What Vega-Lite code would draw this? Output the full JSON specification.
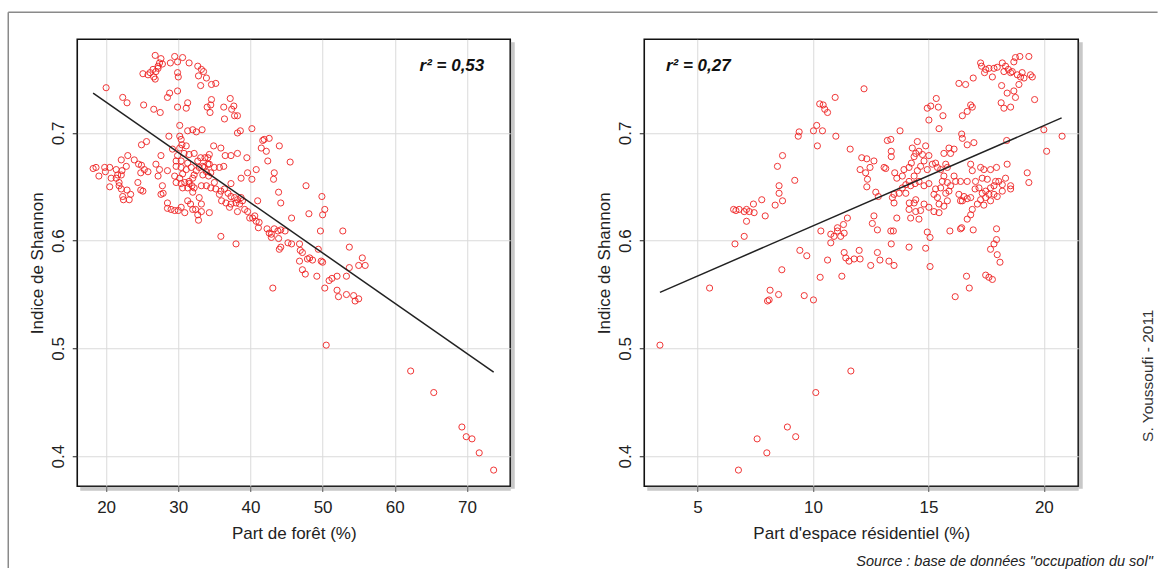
{
"$schema": "https://vega.github.io/schema/vega-lite/v6.json",
"padding": {"left": 6.25, "top": 10.25, "right": 0, "bottom": 0},
"background": "white",
"bounds": "flush",
"spacing": 134,
"datasets": {
"foret": [
{"x":26.8,"y":0.772},{"x":27.6,"y":0.769},{"x":29.5,"y":0.771},{"x":30.6,"y":0.770},{"x":29.9,"y":0.766},{"x":28.9,"y":0.765},{"x":31.5,"y":0.765},{"x":32.7,"y":0.762},{"x":33.2,"y":0.759},{"x":33.5,"y":0.757},{"x":27.4,"y":0.765},{"x":27.2,"y":0.762},{"x":26.5,"y":0.759},{"x":26.9,"y":0.757},{"x":26.1,"y":0.756},{"x":25.8,"y":0.754},{"x":25.1,"y":0.755},{"x":26.6,"y":0.752},{"x":26.8,"y":0.750},{"x":27.2,"y":0.760},{"x":27.8,"y":0.764},{"x":29.9,"y":0.756},{"x":30.0,"y":0.752},{"x":32.8,"y":0.753},{"x":33.9,"y":0.751},{"x":34.6,"y":0.745},{"x":35.2,"y":0.746},{"x":33.1,"y":0.744},{"x":20.0,"y":0.742},{"x":22.3,"y":0.733},{"x":22.9,"y":0.728},{"x":25.2,"y":0.726},{"x":26.6,"y":0.722},{"x":27.5,"y":0.719},{"x":28.5,"y":0.733},{"x":28.8,"y":0.737},{"x":29.9,"y":0.739},{"x":29.9,"y":0.724},{"x":31.1,"y":0.723},{"x":31.3,"y":0.728},{"x":34.0,"y":0.724},{"x":34.6,"y":0.731},{"x":34.5,"y":0.726},{"x":34.4,"y":0.719},{"x":36.3,"y":0.724},{"x":37.2,"y":0.732},{"x":37.4,"y":0.722},{"x":37.7,"y":0.725},{"x":37.8,"y":0.716},{"x":38.2,"y":0.716},{"x":36.4,"y":0.713},{"x":30.2,"y":0.707},{"x":28.7,"y":0.697},{"x":30.2,"y":0.697},{"x":30.4,"y":0.694},{"x":31.3,"y":0.702},{"x":32.0,"y":0.703},{"x":32.5,"y":0.701},{"x":33.3,"y":0.703},{"x":30.5,"y":0.689},{"x":31.1,"y":0.688},{"x":29.2,"y":0.685},{"x":30.8,"y":0.681},{"x":31.5,"y":0.680},{"x":32.2,"y":0.681},{"x":34.3,"y":0.680},{"x":34.9,"y":0.688},{"x":35.9,"y":0.686},{"x":36.5,"y":0.679},{"x":37.3,"y":0.679},{"x":38.2,"y":0.681},{"x":38.2,"y":0.700},{"x":38.6,"y":0.702},{"x":40.2,"y":0.704},{"x":41.7,"y":0.693},{"x":41.9,"y":0.694},{"x":42.6,"y":0.695},{"x":41.5,"y":0.686},{"x":42.2,"y":0.683},{"x":44.0,"y":0.688},{"x":39.5,"y":0.677},{"x":42.4,"y":0.674},{"x":45.5,"y":0.673},{"x":43.3,"y":0.663},{"x":43.2,"y":0.657},{"x":40.8,"y":0.666},{"x":39.6,"y":0.663},{"x":38.7,"y":0.658},{"x":40.2,"y":0.657},{"x":37.3,"y":0.653},{"x":36.3,"y":0.669},{"x":35.7,"y":0.668},{"x":35.0,"y":0.668},{"x":34.1,"y":0.671},{"x":33.1,"y":0.677},{"x":32.9,"y":0.668},{"x":32.5,"y":0.665},{"x":31.8,"y":0.668},{"x":31.1,"y":0.666},{"x":30.6,"y":0.662},{"x":30.2,"y":0.658},{"x":30.4,"y":0.653},{"x":30.9,"y":0.654},{"x":31.5,"y":0.655},{"x":31.9,"y":0.651},{"x":32.2,"y":0.649},{"x":31.3,"y":0.649},{"x":32.0,"y":0.645},{"x":33.2,"y":0.651},{"x":33.9,"y":0.651},{"x":34.2,"y":0.660},{"x":33.4,"y":0.661},{"x":33.6,"y":0.668},{"x":34.5,"y":0.649},{"x":35.2,"y":0.648},{"x":35.9,"y":0.646},{"x":35.7,"y":0.643},{"x":36.4,"y":0.648},{"x":36.9,"y":0.644},{"x":37.3,"y":0.641},{"x":37.8,"y":0.640},{"x":38.2,"y":0.638},{"x":38.7,"y":0.640},{"x":36.0,"y":0.637},{"x":36.6,"y":0.635},{"x":37.3,"y":0.634},{"x":38.0,"y":0.635},{"x":38.5,"y":0.634},{"x":38.9,"y":0.637},{"x":37.1,"y":0.631},{"x":38.2,"y":0.627},{"x":39.2,"y":0.629},{"x":39.6,"y":0.627},{"x":39.9,"y":0.621},{"x":40.3,"y":0.621},{"x":40.6,"y":0.623},{"x":40.8,"y":0.618},{"x":41.2,"y":0.617},{"x":41.1,"y":0.612},{"x":42.3,"y":0.611},{"x":42.6,"y":0.607},{"x":42.9,"y":0.606},{"x":43.3,"y":0.611},{"x":43.8,"y":0.609},{"x":44.2,"y":0.610},{"x":44.8,"y":0.609},{"x":42.9,"y":0.603},{"x":43.9,"y":0.602},{"x":44.2,"y":0.594},{"x":44.0,"y":0.592},{"x":45.2,"y":0.598},{"x":45.7,"y":0.597},{"x":46.8,"y":0.597},{"x":46.9,"y":0.591},{"x":47.2,"y":0.589},{"x":47.9,"y":0.583},{"x":48.2,"y":0.584},{"x":48.6,"y":0.582},{"x":46.8,"y":0.581},{"x":47.2,"y":0.573},{"x":47.6,"y":0.569},{"x":49.2,"y":0.567},{"x":49.8,"y":0.581},{"x":50.0,"y":0.580},{"x":49.4,"y":0.592},{"x":50.9,"y":0.563},{"x":51.3,"y":0.565},{"x":52.0,"y":0.567},{"x":53.3,"y":0.567},{"x":53.7,"y":0.575},{"x":55.5,"y":0.584},{"x":55.0,"y":0.577},{"x":55.9,"y":0.577},{"x":53.7,"y":0.594},{"x":52.8,"y":0.609},{"x":49.7,"y":0.609},{"x":45.7,"y":0.621},{"x":48.1,"y":0.625},{"x":50.0,"y":0.624},{"x":50.3,"y":0.629},{"x":49.9,"y":0.641},{"x":47.7,"y":0.651},{"x":44.2,"y":0.635},{"x":43.9,"y":0.645},{"x":41.0,"y":0.637},{"x":35.9,"y":0.604},{"x":38.0,"y":0.597},
{"x":18.2,"y":0.667},{"x":18.6,"y":0.668},{"x":19.0,"y":0.660},{"x":19.8,"y":0.668},{"x":19.9,"y":0.664},{"x":20.5,"y":0.668},{"x":20.7,"y":0.658},{"x":21.4,"y":0.658},{"x":21.6,"y":0.661},{"x":22.1,"y":0.661},{"x":21.8,"y":0.654},{"x":21.8,"y":0.651},{"x":20.5,"y":0.650},{"x":22.1,"y":0.648},{"x":22.3,"y":0.641},{"x":22.4,"y":0.638},{"x":23.2,"y":0.638},{"x":23.4,"y":0.643},{"x":22.9,"y":0.647},{"x":22.2,"y":0.665},{"x":22.8,"y":0.669},{"x":23.0,"y":0.679},{"x":22.1,"y":0.675},{"x":21.4,"y":0.666},{"x":23.9,"y":0.675},{"x":24.5,"y":0.671},{"x":24.9,"y":0.670},{"x":25.3,"y":0.666},{"x":25.8,"y":0.664},{"x":24.8,"y":0.663},{"x":24.4,"y":0.654},{"x":24.8,"y":0.647},{"x":25.1,"y":0.646},{"x":26.9,"y":0.671},{"x":27.6,"y":0.679},{"x":27.4,"y":0.666},{"x":28.5,"y":0.665},{"x":27.2,"y":0.660},{"x":27.8,"y":0.651},{"x":27.9,"y":0.644},{"x":28.5,"y":0.635},{"x":28.5,"y":0.630},{"x":29.0,"y":0.629},{"x":29.5,"y":0.628},{"x":30.0,"y":0.628},{"x":30.4,"y":0.631},{"x":30.9,"y":0.626},{"x":31.3,"y":0.637},{"x":31.7,"y":0.634},{"x":32.0,"y":0.629},{"x":32.4,"y":0.629},{"x":32.7,"y":0.624},{"x":32.8,"y":0.619},{"x":33.2,"y":0.627},{"x":33.2,"y":0.634},{"x":32.9,"y":0.640},{"x":34.3,"y":0.626},{"x":27.6,"y":0.643},{"x":24.9,"y":0.689},{"x":25.6,"y":0.692},{"x":30.2,"y":0.686},{"x":29.9,"y":0.679},{"x":29.7,"y":0.674},{"x":30.4,"y":0.674},{"x":29.7,"y":0.669},{"x":30.4,"y":0.668},{"x":29.5,"y":0.660},{"x":29.7,"y":0.654},{"x":30.6,"y":0.649},{"x":31.5,"y":0.653},{"x":32.0,"y":0.658},{"x":32.2,"y":0.661},{"x":31.3,"y":0.672},{"x":32.7,"y":0.674},{"x":33.7,"y":0.677},{"x":34.1,"y":0.677},{"x":33.4,"y":0.669},{"x":33.9,"y":0.664},{"x":34.3,"y":0.671},{"x":35.0,"y":0.654},{"x":34.5,"y":0.663},
{"x":43.1,"y":0.556},{"x":50.3,"y":0.556},{"x":52.0,"y":0.554},{"x":52.2,"y":0.548},{"x":53.3,"y":0.550},{"x":54.3,"y":0.549},{"x":54.5,"y":0.544},{"x":55.0,"y":0.546},{"x":50.5,"y":0.503},{"x":62.2,"y":0.479},{"x":65.4,"y":0.459},{"x":69.3,"y":0.427},{"x":69.9,"y":0.418},{"x":70.7,"y":0.416},{"x":71.7,"y":0.403},{"x":73.7,"y":0.387}
],
"resid": [
{"x":17.26,"y":0.765},{"x":17.30,"y":0.762},{"x":17.48,"y":0.759},{"x":17.62,"y":0.760},{"x":17.84,"y":0.760},{"x":17.98,"y":0.761},{"x":18.20,"y":0.765},{"x":18.34,"y":0.762},{"x":18.46,"y":0.759},{"x":18.70,"y":0.766},{"x":18.77,"y":0.770},{"x":18.96,"y":0.771},{"x":19.35,"y":0.771},{"x":18.63,"y":0.757},{"x":18.85,"y":0.754},{"x":18.99,"y":0.752},{"x":19.14,"y":0.751},{"x":19.42,"y":0.754},{"x":19.50,"y":0.752},{"x":17.77,"y":0.752},{"x":17.43,"y":0.756},{"x":18.27,"y":0.757},{"x":18.56,"y":0.756},{"x":19.06,"y":0.756},{"x":18.92,"y":0.745},{"x":18.70,"y":0.739},{"x":18.77,"y":0.733},{"x":18.41,"y":0.737},{"x":18.17,"y":0.744},{"x":16.32,"y":0.746},{"x":16.61,"y":0.745},{"x":16.94,"y":0.751},{"x":19.60,"y":0.731},{"x":18.15,"y":0.728},{"x":18.27,"y":0.723},{"x":18.56,"y":0.724},{"x":16.83,"y":0.726},{"x":16.68,"y":0.720},{"x":16.47,"y":0.716},{"x":16.90,"y":0.724},
{"x":12.21,"y":0.741},{"x":10.96,"y":0.733},{"x":10.29,"y":0.727},{"x":10.44,"y":0.726},{"x":10.51,"y":0.722},{"x":10.63,"y":0.719},{"x":10.16,"y":0.707},{"x":10.02,"y":0.702},{"x":10.41,"y":0.702},{"x":10.19,"y":0.688},{"x":10.99,"y":0.697},{"x":9.40,"y":0.701},{"x":9.36,"y":0.697},{"x":13.77,"y":0.702},{"x":15.02,"y":0.712},{"x":14.95,"y":0.723},{"x":15.10,"y":0.725},{"x":15.34,"y":0.732},{"x":15.43,"y":0.724},{"x":15.63,"y":0.716},{"x":15.46,"y":0.704},{"x":16.44,"y":0.699},{"x":16.47,"y":0.695},{"x":16.68,"y":0.689},{"x":16.97,"y":0.691},{"x":20.00,"y":0.703},{"x":20.79,"y":0.697},{"x":20.12,"y":0.683},{"x":18.39,"y":0.693},
{"x":8.46,"y":0.669},{"x":8.68,"y":0.679},{"x":9.21,"y":0.656},{"x":8.53,"y":0.651},{"x":8.53,"y":0.644},{"x":8.68,"y":0.637},{"x":8.36,"y":0.633},{"x":7.93,"y":0.623},{"x":7.78,"y":0.638},{"x":7.42,"y":0.634},{"x":7.45,"y":0.626},{"x":7.12,"y":0.629},{"x":7.02,"y":0.627},{"x":6.80,"y":0.629},{"x":6.66,"y":0.628},{"x":6.56,"y":0.629},{"x":7.12,"y":0.618},{"x":7.02,"y":0.604},{"x":6.62,"y":0.597},{"x":7.24,"y":0.627},
{"x":11.61,"y":0.685},{"x":12.11,"y":0.677},{"x":12.33,"y":0.676},{"x":12.64,"y":0.674},{"x":12.04,"y":0.666},{"x":12.47,"y":0.668},{"x":12.28,"y":0.663},{"x":12.36,"y":0.657},{"x":12.33,"y":0.650},{"x":12.72,"y":0.645},{"x":12.83,"y":0.641},{"x":13.08,"y":0.668},{"x":13.15,"y":0.667},{"x":13.22,"y":0.693},{"x":13.37,"y":0.694},{"x":13.39,"y":0.683},{"x":13.39,"y":0.678},{"x":13.54,"y":0.663},{"x":13.63,"y":0.658},{"x":13.87,"y":0.660},{"x":13.94,"y":0.666},{"x":14.16,"y":0.668},{"x":14.26,"y":0.672},{"x":14.38,"y":0.678},{"x":14.45,"y":0.681},{"x":14.52,"y":0.692},{"x":14.30,"y":0.686},{"x":14.59,"y":0.683},{"x":14.74,"y":0.680},{"x":14.88,"y":0.688},{"x":15.02,"y":0.679},{"x":14.81,"y":0.674},{"x":14.66,"y":0.669},{"x":14.52,"y":0.665},{"x":14.38,"y":0.660},{"x":14.16,"y":0.655},{"x":14.02,"y":0.652},{"x":14.23,"y":0.651},{"x":14.42,"y":0.653},{"x":14.59,"y":0.655},{"x":14.81,"y":0.651},{"x":15.02,"y":0.653},{"x":14.95,"y":0.666},{"x":15.17,"y":0.671},{"x":15.31,"y":0.672},{"x":15.39,"y":0.668},{"x":15.53,"y":0.666},{"x":15.67,"y":0.681},{"x":15.75,"y":0.671},{"x":15.89,"y":0.686},{"x":16.11,"y":0.685},{"x":15.96,"y":0.681},{"x":15.82,"y":0.668},{"x":15.67,"y":0.660},{"x":15.60,"y":0.655},{"x":15.82,"y":0.654},{"x":15.96,"y":0.651},{"x":15.89,"y":0.646},{"x":16.11,"y":0.660},{"x":16.18,"y":0.655},{"x":15.53,"y":0.649},{"x":15.31,"y":0.648},{"x":15.24,"y":0.643},{"x":15.39,"y":0.640},{"x":15.46,"y":0.634},{"x":15.75,"y":0.644},{"x":15.82,"y":0.637},{"x":15.67,"y":0.632},{"x":15.46,"y":0.626},{"x":15.24,"y":0.627},{"x":15.02,"y":0.631},{"x":14.81,"y":0.634},{"x":14.45,"y":0.638},{"x":14.38,"y":0.635},{"x":14.45,"y":0.627},{"x":14.66,"y":0.628},{"x":14.59,"y":0.620},{"x":14.23,"y":0.621},{"x":14.16,"y":0.629},
{"x":16.32,"y":0.643},{"x":16.47,"y":0.637},{"x":16.68,"y":0.639},{"x":16.83,"y":0.640},{"x":17.02,"y":0.648},{"x":17.19,"y":0.649},{"x":17.33,"y":0.644},{"x":17.48,"y":0.646},{"x":17.62,"y":0.643},{"x":17.48,"y":0.640},{"x":17.26,"y":0.638},{"x":17.12,"y":0.634},{"x":17.69,"y":0.649},{"x":17.84,"y":0.651},{"x":17.91,"y":0.655},{"x":18.05,"y":0.655},{"x":18.20,"y":0.652},{"x":17.98,"y":0.641},{"x":17.84,"y":0.643},{"x":18.20,"y":0.646},{"x":18.34,"y":0.658},{"x":18.41,"y":0.671},{"x":18.56,"y":0.651},{"x":18.56,"y":0.648},{"x":19.28,"y":0.663},{"x":19.35,"y":0.654},{"x":16.83,"y":0.671},{"x":16.90,"y":0.665},{"x":17.26,"y":0.668},{"x":17.40,"y":0.666},{"x":17.69,"y":0.666},{"x":17.95,"y":0.668},{"x":17.55,"y":0.657},{"x":17.33,"y":0.658},{"x":17.04,"y":0.655},{"x":16.68,"y":0.655},{"x":16.39,"y":0.655},{"x":16.39,"y":0.637},{"x":16.54,"y":0.641},{"x":17.69,"y":0.637},{"x":17.40,"y":0.633},{"x":16.90,"y":0.629},{"x":16.83,"y":0.624},{"x":16.68,"y":0.620},{"x":16.39,"y":0.611},{"x":16.94,"y":0.610},{"x":17.95,"y":0.611},{"x":17.95,"y":0.601},{"x":17.84,"y":0.597},{"x":17.69,"y":0.592},{"x":17.98,"y":0.587},{"x":18.10,"y":0.580},{"x":14.95,"y":0.608},{"x":15.07,"y":0.603},{"x":14.88,"y":0.593},{"x":15.07,"y":0.576},{"x":15.93,"y":0.609},{"x":16.44,"y":0.612},
{"x":12.64,"y":0.623},{"x":12.57,"y":0.616},{"x":12.79,"y":0.610},{"x":13.37,"y":0.609},{"x":13.48,"y":0.609},{"x":13.39,"y":0.597},{"x":13.29,"y":0.581},{"x":13.51,"y":0.577},{"x":12.79,"y":0.589},{"x":12.90,"y":0.582},{"x":12.50,"y":0.577},{"x":12.00,"y":0.591},{"x":12.04,"y":0.583},{"x":11.78,"y":0.583},{"x":11.42,"y":0.584},{"x":11.56,"y":0.581},{"x":11.35,"y":0.589},{"x":11.20,"y":0.604},{"x":11.35,"y":0.607},{"x":11.49,"y":0.621},{"x":11.32,"y":0.615},{"x":11.06,"y":0.612},{"x":11.06,"y":0.609},{"x":10.77,"y":0.606},{"x":10.91,"y":0.604},{"x":10.77,"y":0.598},{"x":10.63,"y":0.582},{"x":10.34,"y":0.609},{"x":9.73,"y":0.586},{"x":9.43,"y":0.591},{"x":8.65,"y":0.573},{"x":10.31,"y":0.566},{"x":11.25,"y":0.567},{"x":16.65,"y":0.567},{"x":17.48,"y":0.568},{"x":17.62,"y":0.566},{"x":17.77,"y":0.564},{"x":14.16,"y":0.594},{"x":13.51,"y":0.643},{"x":13.51,"y":0.635},{"x":13.44,"y":0.640},{"x":13.73,"y":0.644},{"x":13.87,"y":0.649},{"x":14.02,"y":0.644},{"x":13.63,"y":0.621},{"x":14.17,"y":0.635},
{"x":3.37,"y":0.503},{"x":5.52,"y":0.556},{"x":8.14,"y":0.554},{"x":8.10,"y":0.545},{"x":8.03,"y":0.544},{"x":8.51,"y":0.550},{"x":9.62,"y":0.549},{"x":10.02,"y":0.545},{"x":16.16,"y":0.548},{"x":16.77,"y":0.556},{"x":11.64,"y":0.479},{"x":10.12,"y":0.459},{"x":8.89,"y":0.427},{"x":9.25,"y":0.418},{"x":7.58,"y":0.416},{"x":8.00,"y":0.403},{"x":6.77,"y":0.387}
],
"regF": [{"x":18.2,"y":0.737},{"x":73.7,"y":0.478}],
"regR": [{"x":3.37,"y":0.552},{"x":20.77,"y":0.714}]
},
"hconcat": [
{
"width": 433, "height": 447,
"layer": [
{"data": {"values": [{}]},
 "mark": {"type": "rule", "color": "#8a8a8a", "strokeWidth": 1.5},
 "encoding": {"x": {"datum": 6.44, "type": "quantitative"}, "y": {"datum": 0.8121, "type": "quantitative"}, "y2": {"datum": 0.296}}},
{"data": {"values": [{}]},
 "mark": {"type": "rule", "color": "#8a8a8a", "strokeWidth": 1.5},
 "encoding": {"x": {"datum": 6.44, "type": "quantitative"}, "x2": {"datum": 165.7}, "y": {"datum": 0.8121, "type": "quantitative"}}},
{"data": {"values": [{}]},
 "mark": {"type": "rule", "color": "#9a9a9a", "strokeWidth": 4, "opacity": 0.55},
 "encoding": {"x": {"datum": 76.346, "type": "quantitative"}, "y": {"datum": 0.7842, "type": "quantitative"}, "y2": {"datum": 0.3697}}},
{"data": {"values": [{}]},
 "mark": {"type": "rule", "color": "#9a9a9a", "strokeWidth": 4, "opacity": 0.55},
 "encoding": {"x": {"datum": 16.416, "type": "quantitative"}, "x2": {"datum": 76.07}, "y": {"datum": 0.3697, "type": "quantitative"}}},
{"data": {"name": "foret"},
 "mark": {"type": "point", "shape": "circle", "filled": false, "color": "#f02222", "size": 38, "strokeWidth": 1, "opacity": 0.9},
 "encoding": {
  "x": {"field": "x", "type": "quantitative", "scale": {"domain": [16, 76], "nice": false, "zero": false},
        "axis": {"values": [20,30,40,50,60,70], "title": "Part de forêt (%)"}},
  "y": {"field": "y", "type": "quantitative", "scale": {"domain": [0.372, 0.787], "nice": false, "zero": false},
        "axis": {"values": [0.4,0.5,0.6,0.7], "format": ".1f", "title": "Indice de Shannon"}}
 }},
{"data": {"name": "regF"},
 "mark": {"type": "line", "color": "#222", "strokeWidth": 1.5},
 "encoding": {"x": {"field": "x", "type": "quantitative"}, "y": {"field": "y", "type": "quantitative"}}},
{"data": {"values": [{}]},
 "mark": {"type": "text", "text": "r² = 0,53", "align": "right", "baseline": "middle", "fontSize": 17, "fontWeight": "bold", "fontStyle": "italic", "color": "#111"},
 "encoding": {"x": {"datum": 72.4, "type": "quantitative"}, "y": {"datum": 0.762, "type": "quantitative"}}}
]
},
{
"width": 434, "height": 447,
"layer": [
{"data": {"values": [{}]},
 "mark": {"type": "rule", "color": "#9a9a9a", "strokeWidth": 4, "opacity": 0.55},
 "encoding": {"x": {"datum": 21.598, "type": "quantitative"}, "y": {"datum": 0.7842, "type": "quantitative"}, "y2": {"datum": 0.3697}}},
{"data": {"values": [{}]},
 "mark": {"type": "rule", "color": "#9a9a9a", "strokeWidth": 4, "opacity": 0.55},
 "encoding": {"x": {"datum": 2.82, "type": "quantitative"}, "x2": {"datum": 21.51}, "y": {"datum": 0.3697, "type": "quantitative"}}},
{"data": {"name": "resid"},
 "mark": {"type": "point", "shape": "circle", "filled": false, "color": "#f02222", "size": 38, "strokeWidth": 1, "opacity": 0.9},
 "encoding": {
  "x": {"field": "x", "type": "quantitative", "scale": {"domain": [2.69, 21.49], "nice": false, "zero": false},
        "axis": {"values": [5,10,15,20], "title": "Part d'espace résidentiel (%)"}},
  "y": {"field": "y", "type": "quantitative", "scale": {"domain": [0.372, 0.787], "nice": false, "zero": false},
        "axis": {"values": [0.4,0.5,0.6,0.7], "format": ".1f", "title": "Indice de Shannon"}}
 }},
{"data": {"name": "regR"},
 "mark": {"type": "line", "color": "#222", "strokeWidth": 1.5},
 "encoding": {"x": {"field": "x", "type": "quantitative"}, "y": {"field": "y", "type": "quantitative"}}},
{"data": {"values": [{}]},
 "mark": {"type": "text", "text": "r² = 0,27", "align": "left", "baseline": "middle", "fontSize": 17, "fontWeight": "bold", "fontStyle": "italic", "color": "#111"},
 "encoding": {"x": {"datum": 3.63, "type": "quantitative"}, "y": {"datum": 0.762, "type": "quantitative"}}},
{"data": {"values": [{}]},
 "mark": {"type": "text", "text": "S. Youssoufi - 2011", "angle": 270, "align": "center", "baseline": "middle", "fontSize": 15.5, "color": "#333"},
 "encoding": {"x": {"datum": 24.5, "type": "quantitative"}, "y": {"datum": 0.4746, "type": "quantitative"}}},
{"data": {"values": [{}]},
 "mark": {"type": "text", "text": "Source : base de données \"occupation du sol\"", "align": "right", "baseline": "middle", "fontSize": 14.5, "fontStyle": "italic", "color": "#222"},
 "encoding": {"x": {"datum": 24.72, "type": "quantitative"}, "y": {"datum": 0.302, "type": "quantitative"}}}
]
}
],
"config": {
 "font": "Liberation Sans",
 "view": {"stroke": "#111", "strokeWidth": 1.6},
 "axis": {"grid": true, "gridColor": "#dadada", "gridWidth": 1, "domain": false, "tickColor": "#222", "tickSize": 5, "labelFontSize": 17, "titleFontSize": 17, "labelColor": "#222", "titleColor": "#222", "titleFontWeight": "normal"},
 "axisY": {"labelAngle": 270, "labelAlign": "center", "labelBaseline": "bottom", "labelPadding": 5, "titlePadding": 3},
 "axisX": {"labelPadding": 8, "titlePadding": 10}
}
}
